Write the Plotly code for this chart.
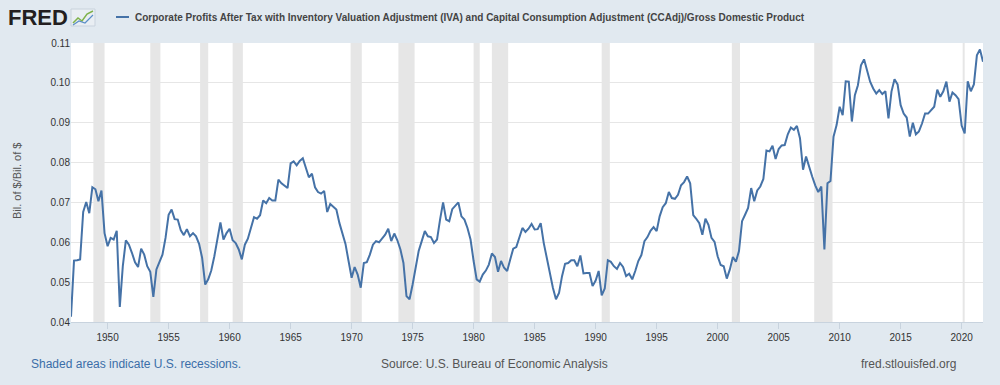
import pandas as pd
import plotly.graph_objects as go

# ---- data (quarterly) ----
start_date = "1947-01-01"
values_1940s = [0.0413, 0.0554, 0.0555, 0.0557,
                0.0676, 0.0701, 0.0673, 0.0738,
                0.0733, 0.0703, 0.0730, 0.0623]
values_1950s = [0.0590, 0.0611, 0.0607, 0.0629,
                0.0438, 0.0540, 0.0605, 0.0594,
                0.0573, 0.0550, 0.0538, 0.0584,
                0.0569, 0.0540, 0.0526, 0.0463,
                0.0532, 0.0553, 0.0569, 0.0611,
                0.0669, 0.0682, 0.0658, 0.0657,
                0.0630, 0.0618, 0.0633, 0.0615,
                0.0623, 0.0615, 0.0596, 0.0561,
                0.0494, 0.0507, 0.0529, 0.0565,
                0.0611, 0.0650, 0.0607, 0.0623]
values_1960s = [0.0634, 0.0605, 0.0598, 0.0582,
                0.0557, 0.0594, 0.0609, 0.0638,
                0.0663, 0.0659, 0.0668, 0.0705,
                0.0698, 0.0711, 0.0705, 0.0705,
                0.0757, 0.0748, 0.0743, 0.0736,
                0.0798, 0.0803, 0.0793, 0.0804,
                0.0811, 0.0788, 0.0763, 0.0772,
                0.0738, 0.0726, 0.0722, 0.0729,
                0.0676, 0.0696, 0.0690, 0.0682,
                0.0648, 0.0623, 0.0596, 0.0553]
values_1970s = [0.0511, 0.0538, 0.0519, 0.0486,
                0.0548, 0.0550, 0.0569, 0.0594,
                0.0603, 0.0600, 0.0609, 0.0619,
                0.0634, 0.0603, 0.0622, 0.0605,
                0.0582, 0.0548, 0.0465, 0.0457,
                0.0494, 0.0536, 0.0578, 0.0603,
                0.0628, 0.0615, 0.0613, 0.0598,
                0.0607, 0.0657, 0.0700, 0.0657,
                0.0653, 0.0683, 0.0693, 0.0700,
                0.0665, 0.0657, 0.0636, 0.0607]
values_1980s = [0.0553, 0.0507, 0.0501, 0.0519,
                0.0529, 0.0544, 0.0572, 0.0563,
                0.0526, 0.0553, 0.0536, 0.0528,
                0.0557, 0.0584, 0.0588, 0.0611,
                0.0636, 0.0626, 0.0634, 0.0646,
                0.0632, 0.0633, 0.0648, 0.0598,
                0.0557, 0.0519, 0.0486, 0.0457,
                0.0473, 0.0515, 0.0546, 0.0548,
                0.0555, 0.0555, 0.0540, 0.0567,
                0.0522, 0.0523, 0.0523, 0.0490]
values_1990s = [0.0504, 0.0528, 0.0467, 0.0484,
                0.0555, 0.0551, 0.0540, 0.0533,
                0.0548, 0.0538, 0.0515, 0.0521,
                0.0507, 0.0528, 0.0553, 0.0568,
                0.0603, 0.0613, 0.0629, 0.0638,
                0.0628, 0.0665, 0.0688, 0.0698,
                0.0726, 0.0711, 0.0709, 0.0719,
                0.0743, 0.0751, 0.0765, 0.0748,
                0.0668, 0.0659, 0.0648, 0.0619,
                0.0659, 0.0644, 0.0611, 0.0601]
values_2000s = [0.0565, 0.0543, 0.0540, 0.0509,
                0.0532, 0.0563, 0.0551, 0.0578,
                0.0653, 0.0669, 0.0686, 0.0736,
                0.0703, 0.0730, 0.0740, 0.0759,
                0.0830, 0.0828, 0.0842, 0.0809,
                0.0834, 0.0843, 0.0844, 0.0871,
                0.0888, 0.0882, 0.0892, 0.0861,
                0.0782, 0.0815, 0.0788, 0.0765,
                0.0743, 0.0726, 0.0740, 0.0582,
                0.0748, 0.0754, 0.0865, 0.0894]
values_2010s = [0.0940, 0.0919, 0.1004, 0.1003,
                0.0903, 0.0969, 0.0994, 0.1044,
                0.1059, 0.1029, 0.1003, 0.0986,
                0.0973, 0.0982, 0.0972, 0.0979,
                0.0911, 0.0978, 0.1009, 0.0996,
                0.0944, 0.0923, 0.0913, 0.0865,
                0.0900, 0.0871, 0.0878, 0.0898,
                0.0923, 0.0923, 0.0932, 0.0940,
                0.0983, 0.0965, 0.0979, 0.1003,
                0.0953, 0.0976, 0.0969, 0.0959]
values_2020s = [0.0893, 0.0873, 0.1004, 0.0979,
                0.0996, 0.1069, 0.1084, 0.1053]

recession_starts = ["1948-11-01", "1953-07-01", "1957-08-01", "1960-04-01",
                    "1969-12-01", "1973-11-01", "1980-01-01", "1981-07-01",
                    "1990-07-01", "2001-03-01", "2007-12-01", "2020-02-01"]
recession_ends = ["1949-10-01", "1954-05-01", "1958-04-01", "1961-02-01",
                  "1970-11-01", "1975-03-01", "1980-07-01", "1982-11-01",
                  "1991-03-01", "2001-11-01", "2009-06-01", "2020-04-01"]

tick_years = [1950, 1955, 1960, 1965, 1970, 1975, 1980, 1985, 1990, 1995,
              2000, 2005, 2010, 2015, 2020]
y_ticks = [0.04, 0.05, 0.06, 0.07, 0.08, 0.09, 0.10, 0.11]

series_name = ("Corporate Profits After Tax with Inventory Valuation Adjustment (IVA) "
               "and Capital Consumption Adjustment (CCAdj)/Gross Domestic Product")

values = (values_1940s + values_1950s + values_1960s + values_1970s +
          values_1980s + values_1990s + values_2000s + values_2010s + values_2020s)
dates = pd.date_range(start_date, periods=len(values), freq="QS")

# ---- layout geometry ----
L, R, T, B = 71, 17, 43, 63
W, H = 1000, 385
PW, PH = W - L - R, H - T - B
BG = "#e1e9f0"
NARROW = "Liberation Sans Narrow, Arial Narrow, Liberation Sans, sans-serif"
SANS = "Liberation Sans, Arial, sans-serif"


def px2x(px):
    return (px - L) / PW


def py2y(py):
    return (H - B - py) / PH


fig = go.Figure()
fig.add_trace(go.Scatter(x=dates, y=values, mode="lines", name=series_name,
                         line=dict(color="#4572a7", width=2), showlegend=False))

shapes = []
for s, e in zip(recession_starts, recession_ends):
    shapes.append(dict(type="rect", xref="x", yref="paper", x0=s, x1=e, y0=0, y1=1,
                       fillcolor="#e6e6e6", line=dict(width=0), layer="below"))
# legend dash in header
shapes.append(dict(type="line", xref="paper", yref="paper",
                   x0=px2x(116), x1=px2x(129), y0=py2y(17), y1=py2y(17),
                   line=dict(color="#4572a7", width=2)))
# small FRED icon
shapes.append(dict(type="rect", xref="paper", yref="paper",
                   x0=px2x(71), x1=px2x(95), y0=py2y(26), y1=py2y(9),
                   fillcolor="#e9eef3", line=dict(color="#c9d3dd", width=1)))
shapes.append(dict(type="path", xref="paper", yref="paper",
                   path=("M {} {} L {} {} L {} {} L {} {} L {} {}".format(
                       px2x(73), py2y(23), px2x(78), py2y(18), px2x(82), py2y(21),
                       px2x(87), py2y(14), px2x(93), py2y(11))),
                   line=dict(color="#7fb24a", width=1.5)))
shapes.append(dict(type="path", xref="paper", yref="paper",
                   path=("M {} {} L {} {} L {} {} L {} {}".format(
                       px2x(73), py2y(25), px2x(79), py2y(21), px2x(85), py2y(23),
                       px2x(93), py2y(15))),
                   line=dict(color="#5b8fc7", width=1.2)))

annotations = [
    dict(text="<b>FRED</b>", xref="paper", yref="paper", x=px2x(6), y=py2y(17),
         xanchor="left", yanchor="middle", showarrow=False,
         font=dict(family=SANS, size=22, color="#231f20")),
    dict(text="<b>" + series_name + "</b>", xref="paper", yref="paper",
         x=px2x(133), y=py2y(17), xanchor="left", yanchor="middle", showarrow=False,
         font=dict(family=NARROW, size=10, color="#444444")),
    dict(text="Bil. of $/Bil. of $", xref="paper", yref="paper",
         x=px2x(17), y=py2y(181), textangle=-90, xanchor="center", yanchor="middle",
         showarrow=False, font=dict(family=NARROW, size=11, color="#555555")),
    dict(text="Shaded areas indicate U.S. recessions.", xref="paper", yref="paper",
         x=px2x(29), y=py2y(364), xanchor="left", yanchor="middle", showarrow=False,
         font=dict(family=SANS, size=12, color="#3b6ea8")),
    dict(text="Source: U.S. Bureau of Economic Analysis", xref="paper", yref="paper",
         x=px2x(494), y=py2y(364), xanchor="center", yanchor="middle", showarrow=False,
         font=dict(family=SANS, size=12, color="#555555")),
    dict(text="fred.stlouisfed.org", xref="paper", yref="paper",
         x=px2x(958), y=py2y(364), xanchor="right", yanchor="middle", showarrow=False,
         font=dict(family=SANS, size=12, color="#555555")),
]

fig.update_layout(
    width=W, height=H,
    margin=dict(l=L, r=R, t=T, b=B, autoexpand=False),
    paper_bgcolor=BG, plot_bgcolor="#ffffff",
    shapes=shapes, annotations=annotations,
    font=dict(family=NARROW, size=10, color="#333333"),
)
fig.update_xaxes(
    type="date", range=[dates[0], dates[-1]],
    tickvals=[pd.Timestamp(year=y, month=1, day=1) for y in tick_years],
    ticktext=[str(y) for y in tick_years],
    showgrid=False, zeroline=False, showline=True, linecolor="#c8d3de", linewidth=1,
    ticks="outside", ticklen=6, tickcolor="#c8d3de",
    tickfont=dict(size=10, color="#333333"),
)
fig.update_yaxes(
    range=[0.04, 0.11], tickvals=y_ticks, tickformat=".2f",
    showgrid=True, gridcolor="#e6e6e6", gridwidth=1, zeroline=False,
    showline=False, ticks="",
    tickfont=dict(size=10, color="#333333"),
)

fig.write_html(
    "out.html",
    config={"displayModeBar": False},
    post_script=("document.body.style.margin='0';"
                 "document.body.style.background='" + BG + "';"),
)
